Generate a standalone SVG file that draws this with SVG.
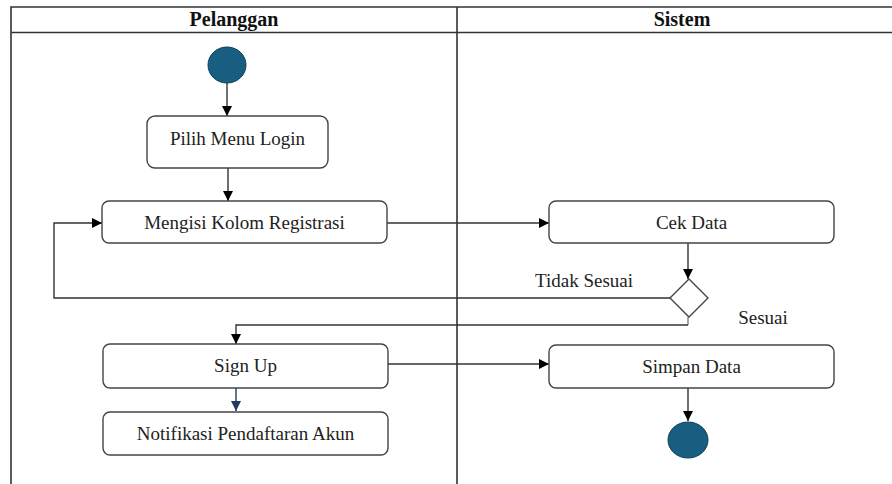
<svg xmlns="http://www.w3.org/2000/svg" width="892" height="484" viewBox="0 0 892 484">
<defs>
<marker id="ah" viewBox="0 0 10 10" refX="10" refY="5" markerWidth="10" markerHeight="10" markerUnits="userSpaceOnUse" orient="auto">
<path d="M0,0 L10,5 L0,10 Z" fill="#000"/>
</marker>
<marker id="ahb" viewBox="0 0 10 10" refX="10" refY="5" markerWidth="10" markerHeight="10" markerUnits="userSpaceOnUse" orient="auto">
<path d="M0,0 L10,5 L0,10 Z" fill="#1f3b5c"/>
</marker>
<style>
.frame{fill:none;stroke:#333;stroke-width:1.6}
.box{fill:#fff;stroke:#444;stroke-width:1.4}
.lbl{font-family:"Liberation Serif","Times New Roman",serif;font-size:19px;fill:#222;text-anchor:middle}
.hdr{font-family:"Liberation Serif","Times New Roman",serif;font-size:20px;font-weight:bold;fill:#111;text-anchor:middle}
.ln{fill:none;stroke:#333;stroke-width:1.4}
.ar{marker-end:url(#ah)}
.dot{fill:#175e80;stroke:#0f3f57;stroke-width:1}
</style>
</defs>
<g id="swimlanes">
<path class="frame" d="M892,7 H11 V484 M11,32.5 H892 M457,7 V484"/>
<text class="hdr" x="234" y="26">Pelanggan</text>
<text class="hdr" x="682" y="26">Sistem</text>
</g>
<g id="connectors">
<path class="ln ar" d="M227,83 V116"/>
<path class="ln ar" d="M228,168 V201"/>
<path class="ln ar" d="M387,223 H549"/>
<path class="ln ar" d="M688,243 V279"/>
<path class="ln ar" d="M671,298 H54 V223 H102"/>
<path class="ln" d="M688,317 V325" style="stroke:#4a90b0"/>
<path class="ln ar" d="M688,325 H236 V344"/>
<path class="ln ar" d="M388,364 H549"/>
<path class="ln" d="M236,388 V411" style="stroke:#1f3b5c;marker-end:url(#ahb)"/>
<path class="ln ar" d="M688,388 V421"/>
<text class="lbl" x="584" y="287">Tidak Sesuai</text>
<text class="lbl" x="763" y="324">Sesuai</text>
</g>
<g id="start"><ellipse class="dot" cx="227" cy="65" rx="19" ry="18"/></g>
<g id="pilih-menu-login">
<rect class="box" x="147" y="116" width="181" height="52" rx="8"/>
<text class="lbl" x="237.5" y="145">Pilih Menu Login</text>
</g>
<g id="mengisi-kolom-registrasi">
<rect class="box" x="102" y="201" width="285" height="42" rx="7"/>
<text class="lbl" x="244.5" y="229">Mengisi Kolom Registrasi</text>
</g>
<g id="cek-data">
<rect class="box" x="549" y="201" width="285" height="42" rx="7"/>
<text class="lbl" x="691.5" y="229">Cek Data</text>
</g>
<g id="decision">
<path d="M689,279 L708,298 L689,317 L670,298 Z" fill="#fff" stroke="#444" stroke-width="1.4"/>
</g>
<g id="sign-up">
<rect class="box" x="103" y="344" width="285" height="44" rx="7"/>
<text class="lbl" x="245.5" y="372">Sign Up</text>
</g>
<g id="simpan-data">
<rect class="box" x="549" y="345" width="285" height="43" rx="7"/>
<text class="lbl" x="691.5" y="373">Simpan Data</text>
</g>
<g id="notifikasi-pendaftaran-akun">
<rect class="box" x="103" y="412" width="285" height="43" rx="7"/>
<text class="lbl" x="245.5" y="440">Notifikasi Pendaftaran Akun</text>
</g>
<g id="end"><ellipse class="dot" cx="688" cy="440" rx="20" ry="18"/></g>
</svg>
